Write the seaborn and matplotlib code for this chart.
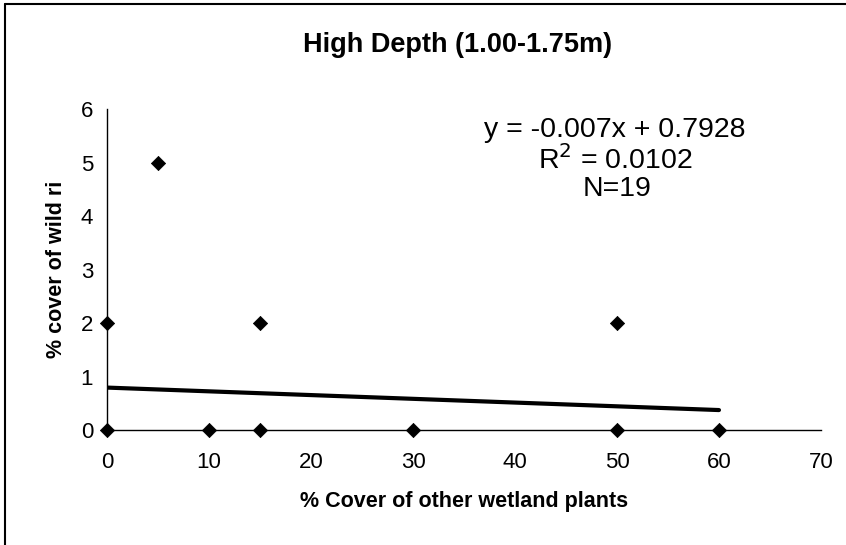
import numpy as np
import pandas as pd
import matplotlib
matplotlib.use("Agg")
import matplotlib.pyplot as plt
import seaborn as sns
from matplotlib.lines import Line2D

# Observed points (duplicates at zero overlap in the picture)
other_cover = [0, 0, 5, 10, 15, 15, 30, 50, 50, 60]
rice_cover = [2, 0, 5, 0, 2, 0, 0, 2, 0, 0]

# Excel trendline shown on the chart
slope = -0.007
intercept = 0.7928
r_squared = 0.0102
n_obs = 19
trend_x = [0, 60]

x_ticks = [0, 10, 20, 30, 40, 50, 60, 70]
y_ticks = [0, 1, 2, 3, 4, 5, 6]

df = pd.DataFrame({"other": other_cover, "rice": rice_cover})
trend = pd.DataFrame({"x": trend_x})
trend["y"] = intercept + slope * trend["x"]

sns.set_theme(style="white")
plt.rcParams["font.family"] = ["Liberation Sans", "DejaVu Sans"]
plt.rcParams["text.color"] = "black"
plt.rcParams["axes.labelcolor"] = "black"

fig = plt.figure(figsize=(8.46, 5.45), dpi=100)
ax = fig.add_axes([0.1265, 0.211, 0.8439, 0.589])

sns.lineplot(data=trend, x="x", y="y", ax=ax, color="black", linewidth=3)
sns.scatterplot(data=df, x="other", y="rice", ax=ax, marker="D", s=52,
                color="black", edgecolor="black", clip_on=False, zorder=5)

ax.set_xlim(0, 70)
ax.set_ylim(0, 6)
ax.set_xticks(x_ticks)
ax.set_yticks(y_ticks)
ax.tick_params(axis="both", labelsize=16, colors="black", direction="out",
               length=5, width=1, pad=5)
ax.tick_params(axis="x", length=4, pad=12)
for side in ["top", "right"]:
    ax.spines[side].set_visible(False)
for side in ["left", "bottom"]:
    ax.spines[side].set_color("black")
    ax.spines[side].set_linewidth(1.0)

ax.set_xlabel("% Cover of other wetland plants", fontsize=15.5, fontweight="bold",
              labelpad=13)
ax.set_ylabel("% cover of wild ri", fontsize=15.5, fontweight="bold", labelpad=10)

fig.text(0.541, 0.917, "High Depth (1.00-1.75m)", ha="center", va="center",
         fontsize=19.5, fontweight="bold")
fig.text(0.727, 0.762, f"y = {slope}x + {intercept}", ha="center", va="center",
         fontsize=20.5)
fig.text(0.727, 0.706, f"R$^2$ = {r_squared}", ha="center", va="center",
         fontsize=20.5)
fig.text(0.729, 0.654, f"N={n_obs}", ha="center", va="center", fontsize=20.5)

# outer frame (left and top edges visible in the scan)
fig.add_artist(Line2D([0.006, 0.006], [0, 0.993], color="black", lw=1.5,
                      transform=fig.transFigure))
fig.add_artist(Line2D([0.006, 1.0], [0.993, 0.993], color="black", lw=1.5,
                      transform=fig.transFigure))

fig.savefig("out.png", dpi=100)
